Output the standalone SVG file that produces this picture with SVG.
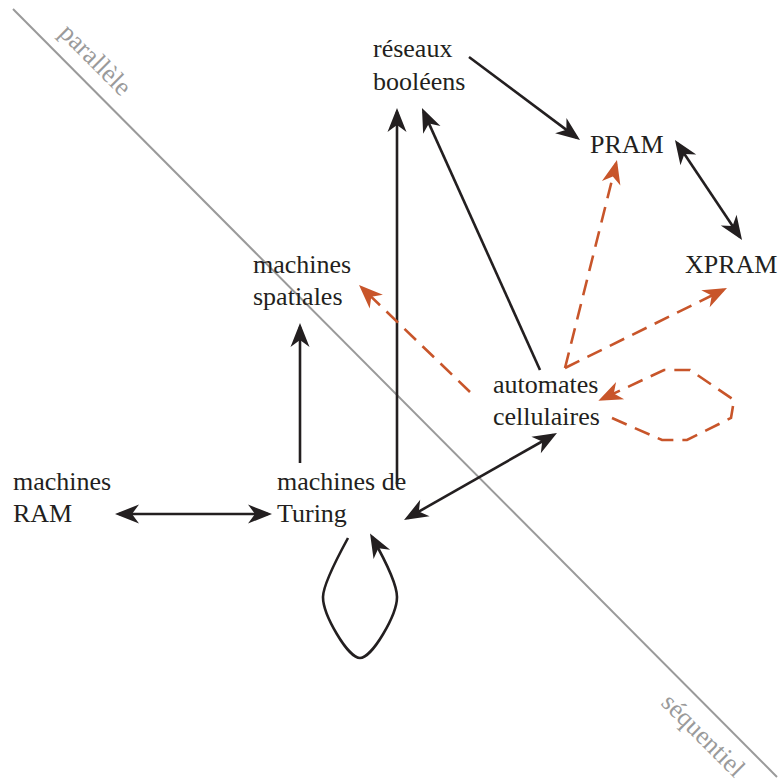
<svg xmlns="http://www.w3.org/2000/svg" width="779" height="782" viewBox="0 0 779 782">
<style>
.lbl{font-family:"Liberation Serif","Times New Roman",serif;font-size:26px;fill:#231f20}
.side{font-family:"Liberation Serif","Times New Roman",serif;font-size:26px;fill:#9a9a9a}
.k{fill:none;stroke:#231f20;stroke-width:2.6}
.r{fill:none;stroke:#c8552a;stroke-width:2.6;stroke-dasharray:16 9}
</style>
<defs>
<marker id="ak" viewBox="-22 -10 28 20" refX="0" refY="0" markerWidth="28" markerHeight="20" markerUnits="userSpaceOnUse" orient="auto-start-reverse">
<path d="M4,0 L-20,-9.5 L-13,0 L-20,9.5 Z" fill="#231f20"/>
</marker>
<marker id="ar" viewBox="-22 -10 28 20" refX="0" refY="0" markerWidth="28" markerHeight="20" markerUnits="userSpaceOnUse" orient="auto-start-reverse">
<path d="M4,0 L-20,-9.5 L-13,0 L-20,9.5 Z" fill="#c8552a"/>
</marker>
</defs>
<rect width="779" height="782" fill="#fff"/>
<g id="divider">
<line x1="13" y1="9" x2="777" y2="777" stroke="#9a9a9a" stroke-width="2"/>
<text class="side" transform="translate(58,34) rotate(45)">parallèle</text>
<text class="side" transform="translate(660,704) rotate(45)">séquentiel</text>
</g>
<g id="connectors">
<path class="k" d="M469,57 L576.8,137.6" marker-end="url(#ak)"/>
<path class="k" d="M677.2,143.3 L739.8,236.7" marker-start="url(#ak)" marker-end="url(#ak)"/>
<path class="k" d="M397,484 L397,112" marker-end="url(#ak)"/>
<path class="k" d="M540,370 L423.6,111.6" marker-end="url(#ak)"/>
<path class="k" d="M300,463 L300,327" marker-end="url(#ak)"/>
<path class="k" d="M119,514 L268,514" marker-start="url(#ak)" marker-end="url(#ak)"/>
<path class="k" d="M407.5,518 L553.5,435" marker-start="url(#ak)" marker-end="url(#ak)"/>
<path class="k" d="M348,538 C336,560 323,585 323,597 C323,615 348,658 360,658 C372,658 397,615 397,597 C397,585 385,560 372,537" marker-end="url(#ak)"/>
<path class="r" d="M565,368 L616,163.9" marker-end="url(#ar)"/>
<path class="r" d="M565,368 L723.4,289.8" marker-end="url(#ar)"/>
<path class="r" d="M470,392 L361.9,287.8" marker-end="url(#ar)"/>
<path class="r" d="M612,418 L662,440 L687,440 L731,418 L734,400 L690,370 L664,370 L602,399" marker-end="url(#ar)"/>
</g>
<g id="reseaux"><text class="lbl" x="373" y="57">réseaux</text><text class="lbl" x="373" y="90">booléens</text></g>
<g id="pram"><text class="lbl" x="590" y="153">PRAM</text></g>
<g id="xpram"><text class="lbl" x="685" y="273">XPRAM</text></g>
<g id="spatiales"><text class="lbl" x="253" y="273">machines</text><text class="lbl" x="253" y="305">spatiales</text></g>
<g id="automates"><text class="lbl" x="493" y="393">automates</text><text class="lbl" x="493" y="425">cellulaires</text></g>
<g id="ram"><text class="lbl" x="13" y="490">machines</text><text class="lbl" x="13" y="522">RAM</text></g>
<g id="turing"><text class="lbl" x="277" y="490">machines de</text><text class="lbl" x="277" y="522">Turing</text></g>
</svg>
